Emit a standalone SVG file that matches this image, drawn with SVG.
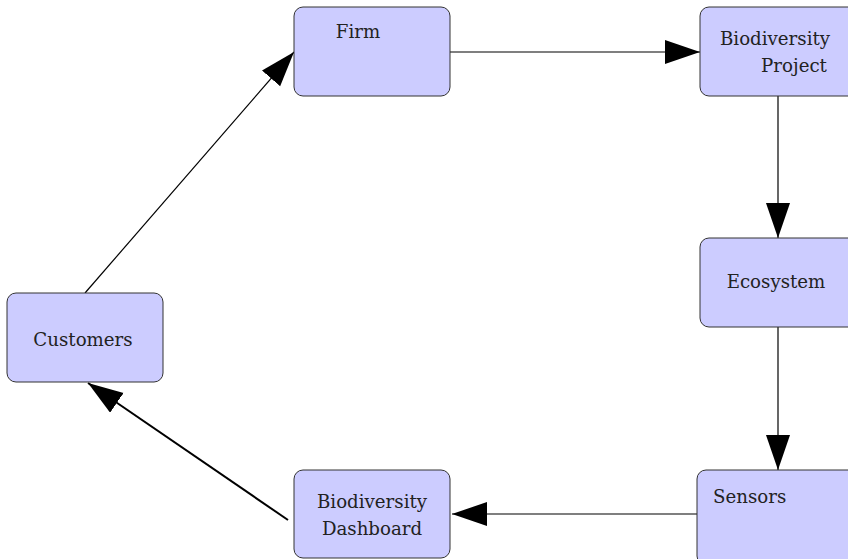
<svg xmlns="http://www.w3.org/2000/svg" width="848" height="559" viewBox="0 0 848 559">
<style>
.box{fill:#ccccff;stroke:#333;stroke-width:1}
.t{font-family:'DejaVu Serif','Liberation Serif',serif;font-size:18.2px;fill:#222}
.c{fill:none;stroke:#000;stroke-width:1.2}
</style>
<defs>
<marker id="ah" markerUnits="userSpaceOnUse" markerWidth="36" markerHeight="26" refX="35" refY="12" orient="auto">
<path d="M0,0 L35,12 L0,24 Z" fill="#000"/>
</marker>
</defs>
<rect width="848" height="559" fill="#fff"/>
<g id="connectors">
<line class="c" x1="450" y1="52" x2="700" y2="52" marker-end="url(#ah)"/>
<line class="c" x1="778" y1="96" x2="778" y2="238" marker-end="url(#ah)"/>
<line class="c" x1="778" y1="327" x2="778" y2="470" marker-end="url(#ah)"/>
<line class="c" x1="697" y1="514" x2="452" y2="514" marker-end="url(#ah)"/>
<line class="c" style="stroke-width:2" x1="288" y1="520" x2="88" y2="383" marker-end="url(#ah)"/>
<line class="c" x1="85" y1="293" x2="294" y2="52" marker-end="url(#ah)"/>
</g>
<g id="firm">
<rect class="box" x="294" y="7" width="156" height="89" rx="9"/>
<text class="t" x="358" y="38" text-anchor="middle">Firm</text>
</g>
<g id="biodiversity-project">
<rect class="box" x="700" y="7" width="160" height="89" rx="9"/>
<text class="t" x="775" y="45" text-anchor="middle">Biodiversity</text>
<text class="t" x="794" y="72" text-anchor="middle">Project</text>
</g>
<g id="ecosystem">
<rect class="box" x="700" y="238" width="160" height="89" rx="9"/>
<text class="t" x="776" y="288" text-anchor="middle">Ecosystem</text>
</g>
<g id="sensors">
<rect class="box" x="697" y="470" width="163" height="95" rx="9"/>
<text class="t" x="713" y="503">Sensors</text>
</g>
<g id="biodiversity-dashboard">
<rect class="box" x="294" y="470" width="156" height="88" rx="9"/>
<text class="t" x="372" y="508" text-anchor="middle">Biodiversity</text>
<text class="t" x="372" y="535" text-anchor="middle">Dashboard</text>
</g>
<g id="customers">
<rect class="box" x="7" y="293" width="156" height="89" rx="9"/>
<text class="t" x="83" y="346" text-anchor="middle">Customers</text>
</g>
</svg>
